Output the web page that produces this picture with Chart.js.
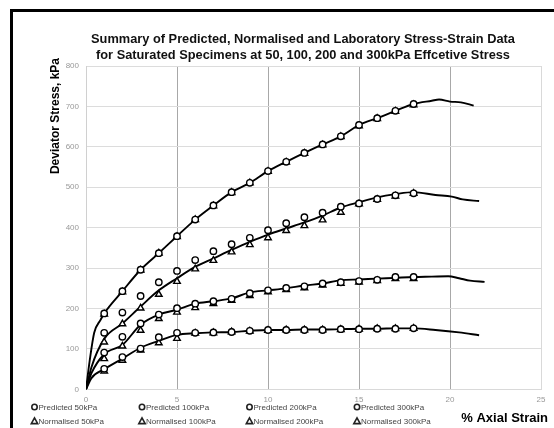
<!DOCTYPE html>
<html>
<head>
<meta charset="utf-8">
<script src="https://cdn.jsdelivr.net/npm/chart.js@4/dist/chart.umd.min.js"></script>
<style>
  html, body { margin: 0; padding: 0; background: #fff; overflow: hidden; }
  #frame { position: absolute; left: 10px; top: 9px; width: 620px; height: 500px;
           border-left: 3px solid #000; border-top: 3px solid #000; }
  #wrap { position: absolute; left: 0; top: 0; width: 554px; height: 428px; }
</style>
</head>
<body>
<div id="frame"></div>
<div id="wrap"><canvas id="stressChart"></canvas></div>
<script>
// % axial strain at which predicted / normalised values are given
const strain = [1, 2, 3, 4, 5, 6, 7, 8, 9, 10, 11, 12, 13, 14, 15, 16, 17, 18];

const predicted50  = [51, 80, 101, 129, 140, 140, 141, 142, 145, 147, 147, 147, 147, 149, 149, 150, 150, 151];
const normalised50 = [45, 72, 97, 115, 126, 139, 140, 142, 144, 146, 147, 147, 147, 148, 149, 150, 150, 151];
const predicted100  = [91, 130, 163, 185, 201, 212, 218, 224, 238, 245, 251, 255, 262, 265, 268, 271, 278, 278];
const normalised100 = [76, 107, 146, 175, 191, 202, 212, 220, 232, 241, 247, 251, 258, 262, 265, 269, 274, 274];
const predicted200  = [140, 190, 231, 265, 293, 320, 342, 359, 375, 394, 411, 426, 437, 452, 460, 471, 480, 485];
const normalised200 = [117, 162, 201, 235, 267, 298, 319, 340, 358, 375, 393, 405, 419, 438, 459, 470, 478, 485];
const predicted300  = [188, 243, 296, 337, 379, 420, 455, 488, 511, 540, 563, 585, 606, 626, 654, 671, 689, 706];
const normalised300 = [186, 241, 295, 337, 378, 420, 454, 487, 511, 539, 562, 584, 605, 625, 652, 670, 688, 704];

// laboratory curves
const labStrain50 = [0, 0.3, 1, 2, 3, 4, 5, 6, 7, 8, 9, 10, 11, 12, 13, 14, 15, 16, 17, 18, 19.2, 20.5, 21.6];
const lab50 = [0, 28, 50, 76, 103, 120, 135, 139, 141, 142, 145, 147, 147, 148, 148, 149, 150, 150, 151, 151, 147, 141, 134];
const labStrain100 = [0, 0.3, 1, 2, 3, 4, 5, 6, 7, 8, 9, 10, 11, 12, 13, 14, 15, 16, 17, 18, 19, 19.9, 20.5, 21.1, 21.9];
const lab100 = [0, 40, 87, 110, 160, 185, 197, 212, 218, 225, 240, 245, 250, 257, 262, 270, 272, 274, 276, 278, 279, 280, 275, 269, 266];
const labStrain200 = [0, 0.3, 1, 2, 3, 4, 5, 6, 7, 8, 9, 10, 11, 12, 13, 14, 15, 16, 17, 18, 19.2, 20.1, 20.7, 21.6];
const lab200 = [0, 55, 125, 163, 205, 245, 275, 303, 324, 345, 365, 383, 398, 413, 430, 450, 463, 475, 483, 488, 481, 477, 470, 466];
const labStrain300 = [0, 0.2, 0.45, 0.8, 1, 2, 3, 4, 5, 6, 7, 8, 9, 10, 11, 12, 13, 14, 15, 16, 17, 18, 19, 19.4, 20, 20.6, 21.3];
const lab300 = [0, 70, 140, 172, 188, 243, 296, 337, 379, 420, 455, 488, 511, 540, 563, 585, 606, 626, 654, 671, 689, 706, 714, 717, 712, 710, 702];

const xTicks = [0, 5, 10, 15, 20, 25];

function pts(xs, ys) {
  return xs.map((x, i) => ({ x: x, y: ys[i] }));
}

function markerSet(label, ys, style) {
  return {
    label: label,
    data: pts(strain, ys),
    pointStyle: style,
    pointRadius: style === 'triangle' ? 3.8 : 3.2,
    pointBorderWidth: 1.4,
    pointBorderColor: '#000',
    pointBackgroundColor: '#fff',
    showLine: false
  };
}

function labSet(label, xs, ys) {
  return {
    label: label,
    data: pts(xs, ys),
    showLine: true,
    borderColor: '#000',
    borderWidth: 1.9,
    pointRadius: 0,
    cubicInterpolationMode: 'monotone',
    lab: true
  };
}

// axis titles and the two-row legend below the plot
const sideText = {
  id: 'sideText',
  afterDraw(chart) {
    const ctx = chart.ctx;
    ctx.save();
    ctx.fillStyle = '#000';
    ctx.font = 'bold 12px "Liberation Sans", Arial, sans-serif';
    ctx.translate(55.5, 58);
    ctx.rotate(-Math.PI / 2);
    ctx.textAlign = 'right';
    ctx.textBaseline = 'middle';
    ctx.fillText('Deviator Stress, kPa', 0, 0);
    ctx.restore();

    ctx.save();
    ctx.fillStyle = '#000';
    ctx.font = 'bold 13px "Liberation Sans", Arial, sans-serif';
    ctx.textAlign = 'right';
    ctx.textBaseline = 'middle';
    ctx.fillText('% Axial Strain', 548, 418);
    ctx.restore();

    const cols = [34.5, 142, 249.5, 357];
    const rows = [407, 421];
    ctx.save();
    ctx.font = '8px "Liberation Sans", Arial, sans-serif';
    ctx.textBaseline = 'middle';
    ctx.textAlign = 'left';
    ctx.strokeStyle = '#222';
    ctx.lineWidth = 1.6;
    chart.data.datasets.filter(d => !d.lab).forEach((d, i) => {
      const x = cols[i % 4], y = rows[Math.floor(i / 4)];
      ctx.beginPath();
      if (d.pointStyle === 'triangle') {
        ctx.moveTo(x, y - 3.2);
        ctx.lineTo(x + 3.2, y + 2.6);
        ctx.lineTo(x - 3.2, y + 2.6);
        ctx.closePath();
      } else {
        ctx.arc(x, y, 2.7, 0, Math.PI * 2);
      }
      ctx.stroke();
      ctx.fillStyle = '#444';
      ctx.fillText(d.label, x + 4, y + 0.5);
    });
    ctx.restore();
  }
};

new Chart(document.getElementById('stressChart'), {
  type: 'scatter',
  data: {
    datasets: [
      markerSet('Predicted 50kPa', predicted50, 'circle'),
      markerSet('Predicted 100kPa', predicted100, 'circle'),
      markerSet('Predicted 200kPa', predicted200, 'circle'),
      markerSet('Predicted 300kPa', predicted300, 'circle'),
      markerSet('Normalised 50kPa', normalised50, 'triangle'),
      markerSet('Normalised 100kPa', normalised100, 'triangle'),
      markerSet('Normalised 200kPa', normalised200, 'triangle'),
      markerSet('Normalised 300kPa', normalised300, 'triangle'),
      labSet('Laboratory 50kPa', labStrain50, lab50),
      labSet('Laboratory 100kPa', labStrain100, lab100),
      labSet('Laboratory 200kPa', labStrain200, lab200),
      labSet('Laboratory 300kPa', labStrain300, lab300)
    ]
  },
  options: {
    responsive: true,
    maintainAspectRatio: false,
    animation: false,
    layout: { padding: { left: 65, right: 13, top: 31, bottom: 17 } },
    scales: {
      x: {
        type: 'linear',
        min: 0,
        max: 25,
        afterBuildTicks: axis => { axis.ticks = xTicks.map(v => ({ value: v })); },
        grid: {
          drawTicks: false,
          color: c => (c.tick && (c.tick.value === 0 || c.tick.value === 25)) ? '#d9d9d9' : '#a8a8a8'
        },
        border: { color: '#d9d9d9' },
        ticks: { padding: 6, color: '#999', font: { size: 8, family: '"Liberation Sans", Arial' } }
      },
      y: {
        min: 0,
        max: 800,
        afterFit: axis => { axis.width = 21; },
        ticks: { stepSize: 100, padding: 7, color: '#999', font: { size: 8, family: '"Liberation Sans", Arial' } },
        grid: { drawTicks: false, color: '#dcdcdc' },
        border: { color: '#d0d0d0' }
      }
    },
    plugins: {
      legend: { display: false },
      tooltip: { enabled: false },
      title: {
        display: true,
        text: ['Summary of Predicted, Normalised and Laboratory Stress-Strain Data',
               'for Saturated Specimens at 50, 100, 200 and 300kPa Effcetive Stress'],
        color: '#111',
        font: { size: 12.8, weight: 'bold', family: '"Liberation Sans", Arial', lineHeight: 1.25 },
        padding: { top: 0, bottom: 3 }
      }
    }
  },
  plugins: [sideText]
});
</script>
</body>
</html>
